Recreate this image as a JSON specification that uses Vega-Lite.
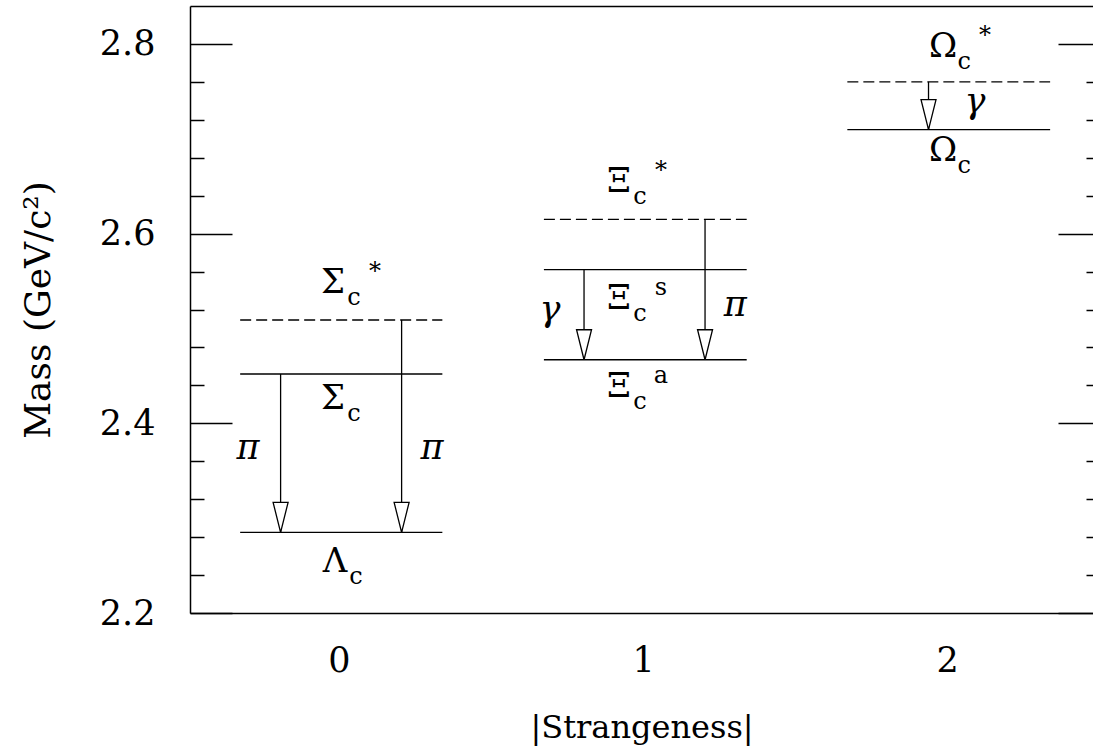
{
  "$schema": "https://vega.github.io/schema/vega-lite/v6.json",
  "width": 903,
  "height": 607,
  "autosize": {"type": "none"},
  "padding": {"left": 190, "top": 6, "right": 0, "bottom": 137},
  "background": "white",
  "config": {
    "view": {"stroke": null},
    "axis": {
      "labelFont": "DejaVu Serif",
      "titleFont": "DejaVu Serif",
      "labelColor": "#000",
      "titleColor": "#000",
      "domainColor": "#000",
      "tickColor": "#000",
      "domainWidth": 1.5,
      "tickWidth": 1.5,
      "labelFontSize": 35,
      "titleFontSize": 32,
      "titleFontWeight": "normal",
      "grid": false
    }
  },
  "datasets": {
    "levels": [
      {"state": "Lambda_c", "x1": -0.325, "x2": 0.34, "mass": 2.285, "kind": "ground"},
      {"state": "Sigma_c", "x1": -0.325, "x2": 0.34, "mass": 2.452, "kind": "ground"},
      {"state": "Sigma_c*", "x1": -0.325, "x2": 0.34, "mass": 2.509, "kind": "excited"},
      {"state": "Xi_c^a", "x1": 0.674, "x2": 1.341, "mass": 2.467, "kind": "ground"},
      {"state": "Xi_c^s", "x1": 0.674, "x2": 1.341, "mass": 2.562, "kind": "ground"},
      {"state": "Xi_c*", "x1": 0.674, "x2": 1.341, "mass": 2.615, "kind": "excited"},
      {"state": "Omega_c", "x1": 1.672, "x2": 2.339, "mass": 2.7097, "kind": "ground"},
      {"state": "Omega_c*", "x1": 1.672, "x2": 2.339, "mass": 2.76, "kind": "excited"}
    ],
    "decays": [
      {"x": -0.192, "from": 2.452, "to": 2.285},
      {"x": 0.206, "from": 2.509, "to": 2.285},
      {"x": 0.806, "from": 2.562, "to": 2.467},
      {"x": 1.204, "from": 2.615, "to": 2.467},
      {"x": 1.939, "from": 2.76, "to": 2.7097}
    ],
    "names": [
      {"x": -0.02, "y": 2.548, "sym": "Σ", "sup": "*"},
      {"x": -0.02, "y": 2.4252, "sym": "Σ", "sup": ""},
      {"x": -0.013, "y": 2.2536, "sym": "Λ", "sup": ""},
      {"x": 0.921, "y": 2.6544, "sym": "Ξ", "sup": "*"},
      {"x": 0.921, "y": 2.5307, "sym": "Ξ", "sup": "s"},
      {"x": 0.921, "y": 2.4379, "sym": "Ξ", "sup": "a"},
      {"x": 1.987, "y": 2.797, "sym": "Ω", "sup": "*"},
      {"x": 1.987, "y": 2.687, "sym": "Ω", "sup": ""}
    ],
    "emitted": [
      {"x": -0.299, "y": 2.3735, "particle": "π"},
      {"x": 0.306, "y": 2.3735, "particle": "π"},
      {"x": 0.694, "y": 2.519, "particle": "γ"},
      {"x": 1.303, "y": 2.525, "particle": "π"},
      {"x": 2.092, "y": 2.7385, "particle": "γ"}
    ]
  },
  "layer": [
    {
      "data": {"name": "levels"},
      "mark": {"type": "rule", "strokeWidth": 1.4, "color": "#000"},
      "encoding": {
        "x": {
          "field": "x1", "type": "quantitative",
          "scale": {"domain": [-0.49, 2.48], "nice": false, "zero": false},
          "axis": {
            "orient": "bottom", "values": [0, 1, 2], "ticks": false,
            "labelPadding": 30, "title": "|Strangeness|", "titlePadding": 34,
            "labelFlush": false
          }
        },
        "x2": {"field": "x2"},
        "y": {
          "field": "mass", "type": "quantitative",
          "scale": {"domain": [2.2, 2.84], "nice": false, "zero": false},
          "axis": {
            "orient": "left",
            "values": [2.2, 2.24, 2.28, 2.32, 2.36, 2.4, 2.44, 2.48, 2.52, 2.56, 2.6, 2.64, 2.68, 2.72, 2.76, 2.8],
            "tickSize": {"condition": {"test": "abs(datum.value*5 - round(datum.value*5)) < 0.001", "value": -42}, "value": -14},
            "labelExpr": "abs(datum.value*5 - round(datum.value*5)) < 0.001 ? format(datum.value, '.1f') : ''",
            "labelPadding": 77,
            "labelFlush": false,
            "title": "Mass (GeV/c²)",
            "titleFontSize": 36,
            "titlePadding": 42
          }
        },
        "strokeDash": {
          "field": "kind", "type": "nominal",
          "scale": {"domain": ["ground", "excited"], "range": [[1, 0], [11, 5]]},
          "legend": null
        }
      }
    },
    {
      "data": {"name": "decays"},
      "mark": {"type": "rule", "strokeWidth": 1.3, "color": "#000"},
      "encoding": {
        "x": {
          "field": "x", "type": "quantitative",
          "scale": {"domain": [-0.49, 2.48], "nice": false, "zero": false},
          "axis": {"orient": "top", "labels": false, "ticks": false, "title": null, "domain": true}
        },
        "y": {
          "field": "from", "type": "quantitative",
          "scale": {"domain": [2.2, 2.84], "nice": false, "zero": false},
          "axis": {
            "orient": "right", "domain": false, "labels": false, "title": null,
            "values": [2.2, 2.24, 2.28, 2.32, 2.36, 2.4, 2.44, 2.48, 2.52, 2.56, 2.6, 2.64, 2.68, 2.72, 2.76, 2.8],
            "tickSize": {"condition": {"test": "abs(datum.value*5 - round(datum.value*5)) < 0.001", "value": -35}, "value": -7}
          }
        },
        "y2": {"field": "to"}
      }
    },
    {
      "data": {"name": "decays"},
      "mark": {
        "type": "point", "shape": "M-0.5,-2L0.5,-2L0,0Z", "size": 900,
        "filled": true, "fill": "white", "stroke": "#000", "strokeWidth": 1.3, "opacity": 1
      },
      "encoding": {
        "x": {"field": "x", "type": "quantitative", "axis": null},
        "y": {"field": "to", "type": "quantitative", "axis": null}
      }
    },
    {
      "data": {"name": "names"},
      "mark": {"type": "text", "font": "DejaVu Serif", "fontSize": 34, "baseline": "middle", "align": "center", "color": "#000"},
      "encoding": {
        "x": {"field": "x", "type": "quantitative", "axis": null},
        "y": {"field": "y", "type": "quantitative", "axis": null},
        "text": {"field": "sym"}
      }
    },
    {
      "data": {"name": "names"},
      "mark": {"type": "text", "font": "DejaVu Serif", "fontSize": 24, "baseline": "middle", "align": "center", "dx": 21, "dy": 15, "color": "#000"},
      "encoding": {
        "x": {"field": "x", "type": "quantitative", "axis": null},
        "y": {"field": "y", "type": "quantitative", "axis": null},
        "text": {"value": "c"}
      }
    },
    {
      "data": {"name": "names"},
      "mark": {"type": "text", "font": "DejaVu Serif", "fontSize": 24, "baseline": "middle", "align": "center", "dx": 42, "dy": -11, "color": "#000"},
      "encoding": {
        "x": {"field": "x", "type": "quantitative", "axis": null},
        "y": {"field": "y", "type": "quantitative", "axis": null},
        "text": {"field": "sup"}
      }
    },
    {
      "data": {"name": "emitted"},
      "mark": {"type": "text", "font": "DejaVu Serif", "fontSize": 35, "fontStyle": "italic", "baseline": "middle", "align": "center", "color": "#000"},
      "encoding": {
        "x": {"field": "x", "type": "quantitative", "axis": null},
        "y": {"field": "y", "type": "quantitative", "axis": null},
        "text": {"field": "particle"}
      }
    }
  ],
  "resolve": {"axis": {"x": "independent", "y": "independent"}}
}
